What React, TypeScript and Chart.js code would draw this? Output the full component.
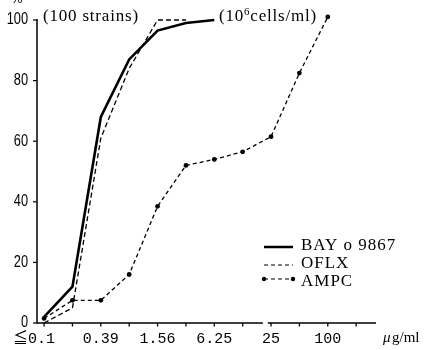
import React, { useEffect, useRef } from "react";
import { Chart, registerables } from "chart.js";

Chart.register(...registerables);

// concentrations (µg/ml), one per x position
const concentrations = ["≦0.1", "0.2", "0.39", "0.78", "1.56", "3.13", "6.25", "12.5", "25", "50", "100"];
// cumulative % of strains inhibited
const bayValues = [2, 12, 68, 87, 96.5, 99, 100];
const oflxValues = [0, 5, 61, 84, 100, 100];
const ampcValues = [1.5, 7.5, 7.5, 16, 38.5, 52, 54, 56.5, 61.5, 82.5, 101];
// x tick labels (index-aligned, extra trailing tick)
const xTickLabels = ["0.1", "", "0.39", "", "1.56", "", "6.25", "", "25", "", "100", ""];
const yTickValues = [0, 20, 40, 60, 80, 100];
const seriesNames = ["BAY o 9867", "OFLX", "AMPC"];

const toPoints = (vals: number[]) => vals.map((v, i) => ({ x: i, y: v }));

export default function App() {
  const ref = useRef<HTMLCanvasElement | null>(null);

  useEffect(() => {
    document.body.style.margin = "0";
    const canvas = ref.current!;
    const axesPlugin = {
      id: "customAxes",
      afterDraw(chart: any) {
        const ctx = chart.ctx as CanvasRenderingContext2D;
        const xs = chart.scales.x;
        const ys = chart.scales.y;
        const area = chart.chartArea;
        const y0 = ys.getPixelForValue(0);
        ctx.save();
        ctx.strokeStyle = "#000";
        ctx.fillStyle = "#000";
        ctx.lineWidth = 1.5;
        // y axis
        ctx.beginPath();
        ctx.moveTo(area.left, y0 + 0.5);
        ctx.lineTo(area.left, ys.getPixelForValue(100) - 1);
        ctx.stroke();
        // y ticks + labels
        ctx.lineWidth = 1.2;
        ctx.font = "16px 'Liberation Sans', Arial, sans-serif";
        ctx.textAlign = "right";
        ctx.textBaseline = "middle";
        yTickValues.forEach((v) => {
          const py = ys.getPixelForValue(v);
          ctx.beginPath();
          ctx.moveTo(area.left - 4, py);
          ctx.lineTo(area.left, py);
          ctx.stroke();
          ctx.save();
          ctx.translate(area.left - 9, py);
          ctx.scale(0.8, 1);
          ctx.fillText(String(v), 0, 0);
          ctx.restore();
        });
        // x axis with break
        const breakPx = xs.getPixelForValue(7.8);
        ctx.lineWidth = 1.3;
        ctx.beginPath();
        ctx.moveTo(area.left, y0);
        ctx.lineTo(breakPx - 2.5, y0);
        ctx.moveTo(breakPx + 2.5, y0);
        ctx.lineTo(area.right, y0);
        ctx.stroke();
        // x ticks + labels
        ctx.font = "15px 'Liberation Mono', 'DejaVu Sans Mono', monospace";
        ctx.textAlign = "center";
        ctx.textBaseline = "middle";
        xTickLabels.forEach((lab, i) => {
          const px = xs.getPixelForValue(i);
          ctx.beginPath();
          ctx.moveTo(px, y0);
          ctx.lineTo(px, y0 + 3.5);
          ctx.stroke();
          if (!lab) return;
          if (i === 0) {
            ctx.textAlign = "right";
            ctx.fillText(lab, px + 11, y0 + 16);
            ctx.font = "15px 'Noto Sans CJK JP', sans-serif";
            ctx.fillText("≦", px - 16, y0 + 14);
            ctx.font = "15px 'Liberation Mono', 'DejaVu Sans Mono', monospace";
            ctx.textAlign = "center";
          } else {
            ctx.fillText(lab, px, y0 + 16);
          }
        });
        // unit
        ctx.textAlign = "left";
        ctx.font = "italic 15px 'Liberation Serif', serif";
        ctx.fillText("μ", 383, y0 + 15);
        ctx.font = "15px 'Liberation Serif', serif";
        ctx.fillText("g/ml", 392, y0 + 15);
        // % label
        ctx.font = "13px 'Liberation Sans', sans-serif";
        ctx.textBaseline = "alphabetic";
        ctx.fillText("%", 11, 3);
        // annotations
        ctx.textBaseline = "middle";
        (ctx as any).letterSpacing = "0.8px";
        ctx.font = "17px 'Liberation Serif', serif";
        ctx.fillText("(100 strains)", 43, 17);
        const t1 = "(10";
        ctx.fillText(t1, 219, 17);
        const w1 = ctx.measureText(t1).width;
        ctx.font = "11px 'Liberation Serif', serif";
        ctx.fillText("6", 219 + w1, 12);
        const w2 = ctx.measureText("6").width;
        ctx.font = "17px 'Liberation Serif', serif";
        ctx.fillText("cells/ml)", 219 + w1 + w2, 17);
        // legend
        const lx0 = 264, lx1 = 293, tx = 301;
        const rows = [246, 264, 282];
        (ctx as any).letterSpacing = "1px";
        ctx.font = "17px 'Liberation Serif', serif";
        rows.forEach((ry, k) => {
          ctx.fillText(seriesNames[k], tx, ry);
        });
        (ctx as any).letterSpacing = "0px";
        // BAY sample
        ctx.lineWidth = 2.5;
        ctx.setLineDash([]);
        ctx.beginPath();
        ctx.moveTo(lx0, rows[0] + 1);
        ctx.lineTo(lx1, rows[0] + 1);
        ctx.stroke();
        // OFLX sample
        ctx.lineWidth = 1.2;
        ctx.setLineDash([4, 3]);
        ctx.beginPath();
        ctx.moveTo(lx0, rows[1] + 1);
        ctx.lineTo(lx1, rows[1] + 1);
        ctx.stroke();
        // AMPC sample
        ctx.beginPath();
        ctx.moveTo(lx0, rows[2] - 3);
        ctx.lineTo(lx1, rows[2] - 3);
        ctx.stroke();
        ctx.setLineDash([]);
        [lx0, lx1].forEach((px) => {
          ctx.beginPath();
          ctx.arc(px, rows[2] - 3, 2.2, 0, Math.PI * 2);
          ctx.fill();
        });
        ctx.restore();
      },
    };

    const chart = new Chart(canvas, {
      type: "line",
      data: {
        labels: concentrations,
        datasets: [
          {
            label: seriesNames[0],
            data: toPoints(bayValues),
            borderColor: "#000",
            borderWidth: 2.6,
            pointRadius: 0,
            tension: 0,
            clip: false as any,
          },
          {
            label: seriesNames[1],
            data: toPoints(oflxValues),
            borderColor: "#000",
            borderWidth: 1.3,
            borderDash: [5, 3],
            pointRadius: 0,
            tension: 0,
            clip: false as any,
          },
          {
            label: seriesNames[2],
            data: toPoints(ampcValues),
            borderColor: "#000",
            borderWidth: 1.3,
            borderDash: [4, 3],
            pointRadius: 2.4,
            pointBackgroundColor: "#000",
            pointBorderWidth: 0,
            tension: 0,
            clip: false as any,
          },
        ],
      },
      options: {
        responsive: false,
        animation: false,
        layout: { padding: { left: 37, right: 56, top: 20, bottom: 27 } },
        plugins: { legend: { display: false }, tooltip: { enabled: false } },
        scales: {
          x: { type: "linear", min: -0.25, max: 11.7, display: false },
          y: { min: 0, max: 100, display: false },
        },
      },
      plugins: [axesPlugin],
    });
    return () => chart.destroy();
  }, []);

  return (
    <div style={{ width: 432, height: 350, background: "#fff" }}>
      <canvas ref={ref} width={432} height={350} style={{ display: "block" }} />
    </div>
  );
}
